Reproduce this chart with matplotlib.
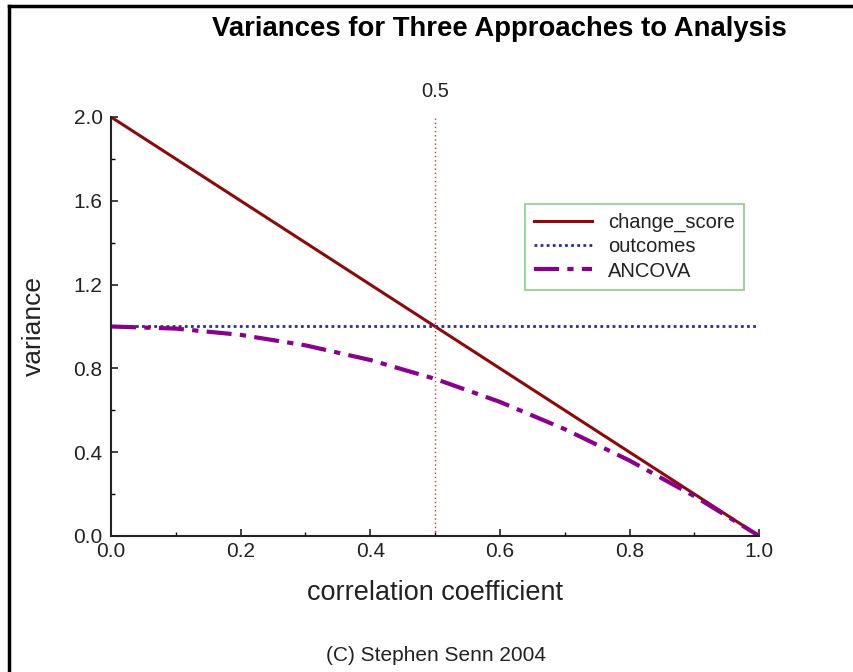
import matplotlib
matplotlib.use("Agg")
import matplotlib.pyplot as plt
from matplotlib.lines import Line2D
import numpy as np

plt.rcParams['font.family'] = ['Liberation Sans', 'DejaVu Sans']

# values
r = [0.0, 0.1, 0.2, 0.3, 0.4, 0.5, 0.6, 0.7, 0.8, 0.9, 1.0]
change_score = [2.0, 1.8, 1.6, 1.4, 1.2, 1.0, 0.8, 0.6, 0.4, 0.2, 0.0]
outcomes = [1.0, 1.0, 1.0, 1.0, 1.0, 1.0, 1.0, 1.0, 1.0, 1.0, 1.0]
ancova = [1.0, 0.99, 0.96, 0.91, 0.84, 0.75, 0.64, 0.51, 0.36, 0.19, 0.0]
marker_r = 0.5

fig = plt.figure(figsize=(8.54, 6.72), dpi=100)
ax = fig.add_axes([0.130, 0.2024, 0.759, 0.6235])

ax.plot(r, change_score, color='#8b0a0a', lw=2.2, label='change_score')
ax.plot(r, outcomes, color='#2a2aa8', lw=2, ls=(0, (1, 1.2)), label='outcomes')
ax.plot(r, ancova, color='#8a008a', lw=3, ls=(0, (6, 2, 1.5, 2)), label='ANCOVA')
ax.plot([marker_r, marker_r], [0, 2.0], color='#b04040', lw=1, ls=(0, (1, 2)))
ax.text(marker_r, 2.12, '0.5', ha='center', va='center', fontsize=14.5, color='#222222')

ax.set_xlim(0, 1.0)
ax.set_ylim(0, 2.0)
ax.set_xticks(np.arange(0, 1.01, 0.2))
ax.set_xticks(np.arange(0, 1.01, 0.1), minor=True)
ax.set_yticks(np.arange(0, 2.01, 0.4))
ax.set_yticks(np.arange(0, 2.01, 0.2), minor=True)
ax.xaxis.set_major_formatter(matplotlib.ticker.FormatStrFormatter('%.1f'))
ax.yaxis.set_major_formatter(matplotlib.ticker.FormatStrFormatter('%.1f'))
ax.tick_params(direction='in', labelsize=15, length=5, width=1.2, colors='#222222')
ax.tick_params(which='minor', direction='in', length=3, width=1)
ax.tick_params(axis='x', pad=4)
ax.tick_params(axis='y', pad=6)
for s in ['top', 'right']:
    ax.spines[s].set_visible(False)
for s in ['left', 'bottom']:
    ax.spines[s].set_linewidth(1.5)
    ax.spines[s].set_color('#222222')

ax.set_xlabel('correlation coefficient', fontsize=19.5, labelpad=14, color='#222222')
ax.set_ylabel('variance', fontsize=19, labelpad=20, color='#222222')

leg = ax.legend(loc='upper left', bbox_to_anchor=(0.639, 0.792), fontsize=14.5,
                frameon=True, fancybox=False, edgecolor='#6cc06c',
                handlelength=2.85, borderpad=0.45, labelspacing=0.25, handletextpad=0.8,
                borderaxespad=0)
leg.get_frame().set_linewidth(1.2)
for t in leg.get_texts():
    t.set_color('#222222')

fig.text(0.585, 0.957, 'Variances for Three Approaches to Analysis', ha='center', va='center',
         fontsize=19.8, fontweight='bold')
fig.text(0.51, 0.025, '(C) Stephen Senn 2004', ha='center', va='center', fontsize=15,
         color='#222222')

# outer frame (left and top edges)
fig.add_artist(Line2D([0.0105, 0.0105], [0, 0.991], color='black', lw=2.5))
fig.add_artist(Line2D([0.0105, 1.0], [0.991, 0.991], color='black', lw=2.5))

fig.savefig('out.png', dpi=100)
